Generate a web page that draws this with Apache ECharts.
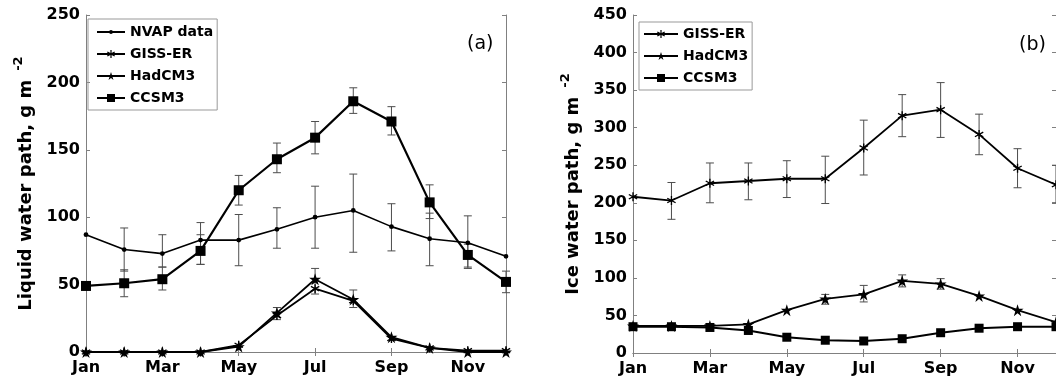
<!DOCTYPE html>
<html>
<head>
<meta charset="utf-8">
<script src="https://cdn.jsdelivr.net/npm/echarts@6/dist/echarts.min.js"></script>
<style>
  html, body { margin: 0; padding: 0; background: #fff; }
  #chart { width: 1056px; height: 386px; }
</style>
</head>
<body>
<div id="chart"></div>
<script>
// Months along the x axis
const months = ['Jan', 'Feb', 'Mar', 'Apr', 'May', 'Jun', 'Jul', 'Aug', 'Sep', 'Oct', 'Nov', 'Dec'];

// Panel (a): liquid water path, g m^-2
const lwpNvap     = [87, 76, 73, 83, 83, 91, 100, 105, 93, 84, 81, 71];
const lwpNvapLow  = [null, 60, 63, 65, 64, 77, 77, 74, 75, 64, 62, null];
const lwpNvapHigh = [null, 92, 87, 96, 102, 107, 123, 132, 110, 103, 101, null];
const lwpGiss     = [0, 0, 0, 0, 5, 27, 47, 38, 10, 3, 1, 1];
const lwpHad      = [0, 0, 0, 0, 4, 29, 54, 39, 11, 3, 0, 0];
const lwpHadLow   = [null, null, null, null, null, 24, 43, 33, null, null, null, null];
const lwpHadHigh  = [null, null, null, null, null, 33, 62, 46, null, null, null, null];
const lwpCcsm     = [49, 51, 54, 75, 120, 143, 159, 186, 171, 111, 72, 52];
const lwpCcsmLow  = [null, 41, 46, 65, 109, 133, 147, 177, 161, 99, 63, 44];
const lwpCcsmHigh = [null, 61, 63, 87, 131, 155, 171, 196, 182, 124, 80, 60];

// Panel (b): ice water path, g m^-2
const iwpGiss     = [208, 203, 226, 229, 232, 232, 273, 316, 324, 291, 246, 224];
const iwpGissLow  = [null, 178, 200, 204, 207, 199, 237, 288, 287, 264, 220, 200];
const iwpGissHigh = [null, 227, 253, 253, 256, 262, 310, 344, 360, 318, 272, 250];
const iwpHad      = [36, 36, 36, 38, 57, 72, 78, 96, 92, 76, 57, 41];
const iwpHadLow   = [null, null, null, null, null, 65, 68, 88, 85, null, null, null];
const iwpHadHigh  = [null, null, null, null, null, 78, 90, 104, 99, null, null, null];
const iwpCcsm     = [35, 35, 34, 30, 21, 17, 16, 19, 27, 33, 35, 35];

// Y-axis ranges and tick spacing
const lwpMax = 250, iwpMax = 450, yStep = 50;

const FONT = 'DejaVu Sans';
const AXIS_GRAY = '#808080';

// Marker shapes (unit boxes, scaled by symbolSize)
const DOT = 'path://M0,0 M10,10 M5,2.6 A2.4,2.4 0 1 1 4.99,2.6 Z';
const STAR = 'path://M5,0 L6.123,3.455 L9.755,3.455 L6.816,5.59 L7.939,9.045 L5,6.91 L2.061,9.045 L3.184,5.59 L0.245,3.455 L3.877,3.455 Z';
const ASTER = 'path://M4.3,0 L5.7,0 L5.7,10 L4.3,10 Z M8.95,1.85 L9.65,3.06 L1.05,8.15 L0.35,6.94 Z M0.35,3.06 L1.05,1.85 L9.65,6.94 L8.95,8.15 Z';

function lineSeries(name, data, symbol, size, width, axisIdx) {
  return {
    type: 'line', name, data,
    xAxisIndex: axisIdx, yAxisIndex: axisIdx,
    symbol, symbolSize: size, showSymbol: true,
    lineStyle: { color: '#000', width },
    itemStyle: { color: '#000' },
    z: 3, animation: false
  };
}

// Vertical error bars with small caps
function errorBars(lows, highs, axisIdx) {
  const data = [];
  lows.forEach((lo, i) => { if (lo != null) data.push([i, lo, highs[i]]); });
  return {
    type: 'custom', xAxisIndex: axisIdx, yAxisIndex: axisIdx,
    silent: true, z: 2, animation: false, data,
    renderItem(params, api) {
      const lo = api.coord([api.value(0), api.value(1)]);
      const hi = api.coord([api.value(0), api.value(2)]);
      const w = 4;
      const style = { stroke: '#4d4d4d', lineWidth: 1 };
      return {
        type: 'group',
        children: [
          { type: 'line', shape: { x1: lo[0], y1: hi[1], x2: lo[0], y2: lo[1] }, style },
          { type: 'line', shape: { x1: lo[0] - w, y1: hi[1], x2: lo[0] + w, y2: hi[1] }, style },
          { type: 'line', shape: { x1: lo[0] - w, y1: lo[1], x2: lo[0] + w, y2: lo[1] }, style }
        ]
      };
    }
  };
}

const tickStyle = { show: true, inside: true, length: 4, lineStyle: { color: AXIS_GRAY, width: 1 } };
const lineStyleAxis = { show: true, lineStyle: { color: AXIS_GRAY, width: 1 } };

function xAxes(gridIndex) {
  const base = {
    type: 'category', data: months, boundaryGap: false, gridIndex,
    axisLine: lineStyleAxis,
    axisTick: Object.assign({ interval: 1 }, tickStyle),
    splitLine: { show: false }
  };
  return [
    Object.assign({}, base, {
      position: 'bottom',
      axisLabel: { interval: 1, margin: 8, color: '#000', fontFamily: FONT, fontWeight: 'bold', fontSize: 16 }
    }),
    Object.assign({}, base, { position: 'top', axisLabel: { show: false } })
  ];
}

function yAxes(gridIndex, max, title) {
  const base = {
    type: 'value', min: 0, max, interval: yStep, gridIndex,
    axisLine: lineStyleAxis, axisTick: tickStyle, splitLine: { show: false }
  };
  return [
    Object.assign({}, base, {
      position: 'left',
      axisLabel: { margin: 6, color: '#000', fontFamily: FONT, fontWeight: 'bold', fontSize: 16 },
      name: '{m|' + title + '}{s|-2}',
      nameLocation: 'middle', nameGap: 46, nameRotate: 90,
      nameTextStyle: {
        rich: {
          m: { fontFamily: FONT, fontWeight: 'bold', fontSize: 18, color: '#000', lineHeight: 28 },
          s: { fontFamily: FONT, fontWeight: 'bold', fontSize: 13, color: '#000', lineHeight: 12, verticalAlign: 'top', padding: [0, 0, 0, 9] }
        }
      }
    }),
    Object.assign({}, base, { position: 'right', axisLabel: { show: false } })
  ];
}

const legendText = { fontFamily: FONT, fontWeight: 'bold', fontSize: 14, color: '#000' };

const option = {
  backgroundColor: '#fff',
  animation: false,
  grid: [
    { left: 86, top: 15, width: 420, height: 337, outerBoundsMode: 'none' },
    { left: 633, top: 15, width: 423, height: 338, outerBoundsMode: 'none' }
  ],
  title: [
    { text: '(a)', left: 467, top: 35, padding: 0, textStyle: { fontFamily: FONT, fontWeight: 'normal', fontSize: 19, color: '#000' } },
    { text: '(b)', left: 1019, top: 36, padding: 0, textStyle: { fontFamily: FONT, fontWeight: 'normal', fontSize: 19, color: '#000' } }
  ],
  legend: [
    {
      left: 88, top: 19, orient: 'vertical', selectedMode: false,
      data: ['NVAP data', 'GISS-ER', 'HadCM3', 'CCSM3'],
      itemWidth: 28, itemHeight: 10, itemGap: 8, padding: [6, 4, 5, 8],
      borderColor: '#999', borderWidth: 1, textStyle: legendText
    },
    {
      left: 639, top: 22, orient: 'vertical', selectedMode: false,
      data: ['GISS-ER', 'HadCM3', 'CCSM3'],
      itemWidth: 34, itemHeight: 10, itemGap: 8, padding: [5, 4, 5, 4],
      borderColor: '#999', borderWidth: 1, textStyle: legendText
    }
  ],
  xAxis: xAxes(0).concat(xAxes(1)),
  yAxis: yAxes(0, lwpMax, 'Liquid water path, g m').concat(yAxes(1, iwpMax, 'Ice water path, g m')),
  series: [
    // panel (a): axes 0 (grid 0)
    errorBars(lwpNvapLow, lwpNvapHigh, 0),
    errorBars(lwpCcsmLow, lwpCcsmHigh, 0),
    errorBars(lwpHadLow, lwpHadHigh, 0),
    lineSeries('NVAP data', lwpNvap, DOT, 10, 1.6, 0),
    lineSeries('GISS-ER', lwpGiss, ASTER, 9, 1.8, 0),
    lineSeries('HadCM3', lwpHad, STAR, 12, 1.8, 0),
    lineSeries('CCSM3', lwpCcsm, 'rect', 10, 2.2, 0),
    // panel (b): axes 2 (grid 1)
    errorBars(iwpGissLow, iwpGissHigh, 2),
    errorBars(iwpHadLow, iwpHadHigh, 2),
    lineSeries('GISS-ER', iwpGiss, ASTER, 9, 1.8, 2),
    lineSeries('HadCM3', iwpHad, STAR, 12, 1.8, 2),
    lineSeries('CCSM3', iwpCcsm, 'rect', 9, 2, 2)
  ]
};

const chart = echarts.init(document.getElementById('chart'), null, { renderer: 'canvas' });
chart.setOption(option);
</script>
</body>
</html>
